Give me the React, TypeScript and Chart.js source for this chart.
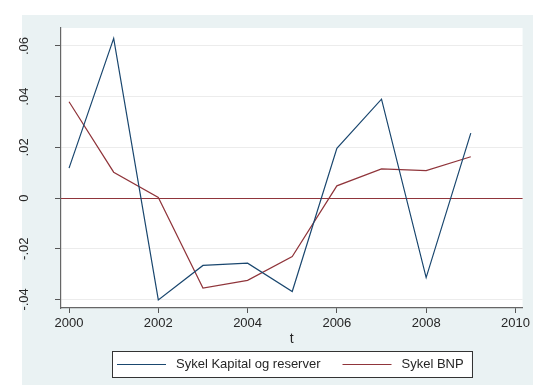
import React, { useEffect, useRef } from "react";
import { Chart, registerables } from "chart.js";

Chart.register(...registerables);

const years = [2000, 2001, 2002, 2003, 2004, 2005, 2006, 2007, 2008, 2009];
const sykelKapital = [0.0118, 0.063, -0.0402, -0.0266, -0.0257, -0.0369, 0.0196, 0.039, -0.0314, 0.0256];
const sykelBNP = [0.038, 0.0102, 0.0002, -0.0355, -0.0325, -0.0231, 0.0048, 0.0115, 0.0108, 0.0163];
const xTicks = [2000, 2002, 2004, 2006, 2008, 2010];
const yTicks = [-0.04, -0.02, 0, 0.02, 0.04, 0.06];
const seriesLabels = ["Sykel Kapital og reserver", "Sykel BNP"];
const xTitle = "t";

const FONT = "'Liberation Sans', Arial, sans-serif";
const TEXT = "#262626";
const NAVY = "#1a476f";
const MAROON = "#90353b";

const fmtY = (v: number) =>
  Math.abs(v) < 1e-9 ? "0" : (v < 0 ? "-" : "") + Math.abs(v).toFixed(2).slice(1);

const backgroundPlugin = {
  id: "bgPlugin",
  beforeDraw(chart: any) {
    const { ctx, chartArea: ca, width, height } = chart;
    ctx.save();
    ctx.fillStyle = "#ffffff";
    ctx.fillRect(0, 0, width, height);
    ctx.fillStyle = "#eaf2f3";
    ctx.fillRect(22, 15, width - 22, height - 15);
    ctx.fillStyle = "#ffffff";
    ctx.fillRect(ca.left, ca.top, ca.right - ca.left, ca.bottom - ca.top);
    ctx.restore();
  },
};

const zeroLinePlugin = {
  id: "zeroLine",
  beforeDatasetsDraw(chart: any) {
    const { ctx, chartArea: ca } = chart;
    const y = Math.round(chart.scales.y.getPixelForValue(0)) + 0.5;
    ctx.save();
    ctx.strokeStyle = MAROON;
    ctx.lineWidth = 1.2;
    ctx.beginPath();
    ctx.moveTo(ca.left, y);
    ctx.lineTo(ca.right, y);
    ctx.stroke();
    ctx.restore();
  },
};

const legendPlugin = {
  id: "stataLegend",
  afterDraw(chart: any) {
    const { ctx, chartArea: ca } = chart;
    const ds = chart.data.datasets;
    ctx.save();
    ctx.font = `13px ${FONT}`;
    const w1 = ctx.measureText(ds[0].label).width;
    const w2 = ctx.measureText(ds[1].label).width;
    const padL = 5, lineLen = 49, gap = 10, between = 22, padR = 8;
    const total = padL + lineLen + gap + w1 + between + lineLen + gap + w2 + padR;
    const cx = (ca.left + ca.right) / 2;
    const left = Math.round(cx - total / 2);
    const top = 351, h = 26;
    ctx.fillStyle = "#ffffff";
    ctx.fillRect(left, top, total, h);
    ctx.strokeStyle = "#333333";
    ctx.lineWidth = 1;
    ctx.strokeRect(left + 0.5, top + 0.5, Math.round(total), h);
    const yMid = top + h / 2;
    let x = left + padL;
    const items = [
      { ds: ds[0], w: w1 },
      { ds: ds[1], w: w2 },
    ];
    items.forEach((it, i) => {
      ctx.strokeStyle = it.ds.borderColor;
      ctx.lineWidth = 1.2;
      ctx.beginPath();
      ctx.moveTo(x, Math.round(yMid) + 0.5);
      ctx.lineTo(x + lineLen, Math.round(yMid) + 0.5);
      ctx.stroke();
      x += lineLen + gap;
      ctx.fillStyle = TEXT;
      ctx.textBaseline = "middle";
      ctx.textAlign = "left";
      ctx.fillText(it.ds.label, x, yMid);
      x += it.w + (i === 0 ? between : 0);
    });
    ctx.restore();
  },
};

export default function App() {
  const ref = useRef<HTMLCanvasElement | null>(null);

  useEffect(() => {
    if (!ref.current) return;
    const chart = new Chart(ref.current, {
      type: "line",
      data: {
        datasets: [
          {
            label: seriesLabels[0],
            data: years.map((yr, i) => ({ x: yr, y: sykelKapital[i] })),
            borderColor: NAVY,
            borderWidth: 1.2,
            pointRadius: 0,
            tension: 0,
            fill: false,
          },
          {
            label: seriesLabels[1],
            data: years.map((yr, i) => ({ x: yr, y: sykelBNP[i] })),
            borderColor: MAROON,
            borderWidth: 1.2,
            pointRadius: 0,
            tension: 0,
            fill: false,
          },
        ],
      },
      options: {
        animation: false,
        responsive: false,
        maintainAspectRatio: false,
        devicePixelRatio: 1,
        layout: { padding: { left: 0, top: 28, right: 7, bottom: 0 } },
        plugins: {
          legend: { display: false },
          tooltip: { enabled: false },
          title: { display: false },
        },
        scales: {
          x: {
            type: "linear",
            min: 1999.82,
            max: 2010.16,
            afterBuildTicks: (scale: any) => {
              scale.ticks = xTicks.map((v) => ({ value: v }));
            },
            afterFit: (scale: any) => {
              scale.height = 77;
            },
            ticks: {
              callback: (v: any) => String(v),
              font: { family: FONT, size: 13 },
              color: TEXT,
              padding: 3,
              maxRotation: 0,
              minRotation: 0,
              autoSkip: false,
            },
            grid: {
              drawOnChartArea: false,
              drawTicks: true,
              tickLength: 5,
              tickColor: "#555555",
              tickWidth: 1,
            },
            border: { display: true, color: "#666666", width: 1.2 },
            title: {
              display: true,
              text: xTitle,
              font: { family: FONT, size: 14 },
              color: TEXT,
              padding: { top: 0, bottom: 37 },
            },
          },
          y: {
            type: "linear",
            min: -0.0434,
            max: 0.0671,
            afterBuildTicks: (scale: any) => {
              scale.ticks = yTicks.map((v) => ({ value: v }));
            },
            afterFit: (scale: any) => {
              scale.width = 61;
            },
            ticks: {
              callback: (v: any) => fmtY(Number(v)),
              font: { family: FONT, size: 13 },
              color: TEXT,
              minRotation: 90,
              maxRotation: 90,
              crossAlign: "center",
              padding: 19,
              autoSkip: false,
            },
            grid: {
              drawOnChartArea: true,
              color: "#ececec",
              lineWidth: 1,
              drawTicks: true,
              tickLength: 6,
              tickColor: "#555555",
              tickWidth: 1,
            },
            border: { display: true, color: "#666666", width: 1.2 },
          },
        },
      },
      plugins: [backgroundPlugin, zeroLinePlugin, legendPlugin],
    } as any);
    return () => chart.destroy();
  }, []);

  return (
    <div style={{ position: "fixed", left: 0, top: 0, width: 533, height: 385 }}>
      <canvas ref={ref} width={533} height={385} style={{ width: 533, height: 385, display: "block" }} />
    </div>
  );
}
